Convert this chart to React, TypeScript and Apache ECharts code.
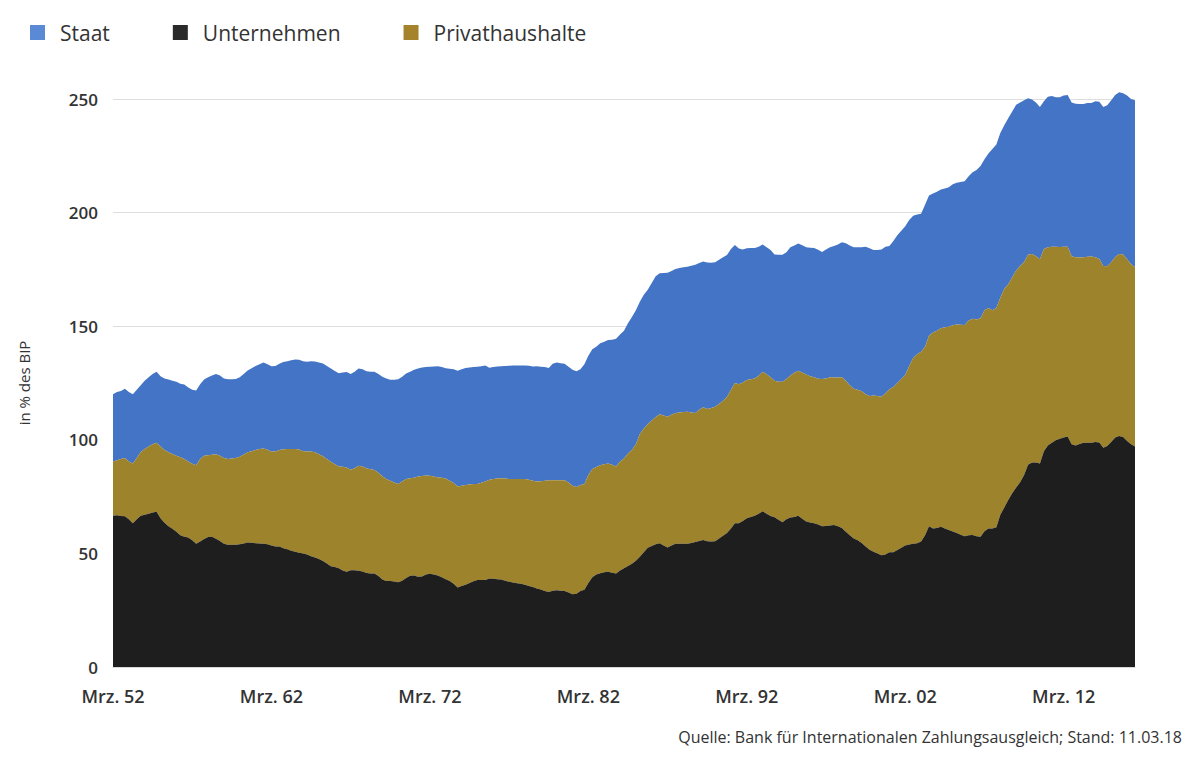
import React, { useEffect, useRef } from "react";
import * as echarts from "echarts";

// Quarterly data, Mrz. 1952 ... Sep. 2016 (259 quarters)
const startYear = 1952;
const quarterNames = ["Mrz.", "Jun.", "Sep.", "Dez."];

const unternehmen: number[] = [
  66.6, 66.8, 66.5, 66.3, 65.0, 63.3, 65.0, 66.6, 67.0, 67.5, 68.0, 68.3,
  65.5, 63.5, 62.0, 60.9, 59.5, 58.0, 57.3, 57.0, 55.8, 54.3, 55.2, 56.3,
  57.2, 57.3, 56.5, 55.5, 54.2, 53.8, 53.8, 53.8, 54.0, 54.4, 54.8, 54.7,
  54.5, 54.4, 54.3, 54.0, 53.5, 53.0, 53.0, 52.3, 51.8, 51.2, 50.7, 50.3,
  50.0, 49.5, 48.8, 48.2, 47.5, 46.7, 45.5, 44.3, 44.0, 43.5, 42.5, 41.9,
  42.6, 42.6, 42.4, 42.0, 41.4, 41.1, 41.1, 40.0, 38.5, 37.8, 37.8, 37.6,
  37.3, 38.0, 39.2, 40.2, 40.3, 39.7, 39.8, 40.7, 41.0, 40.7, 40.3, 39.5,
  38.6, 37.8, 36.6, 35.0, 35.6, 36.2, 37.0, 37.7, 38.3, 38.3, 38.3, 39.0,
  38.8, 38.6, 38.5, 38.0, 37.5, 37.2, 36.9, 36.6, 36.2, 35.6, 35.2, 34.6,
  34.1, 33.5, 33.0, 33.6, 33.8, 33.6, 33.4, 32.8, 32.0, 32.2, 33.4, 34.0,
  37.0, 39.5, 40.7, 41.3, 41.7, 41.9, 41.5, 41.1, 42.5, 43.5, 44.5, 45.4,
  46.8, 48.5, 50.5, 52.5, 53.3, 54.0, 54.5, 53.5, 52.6, 53.5, 54.3, 54.3,
  54.3, 54.3, 54.6, 55.0, 55.5, 55.9, 55.3, 55.2, 55.4, 56.6, 57.8, 59.0,
  61.0, 63.3, 63.3, 64.3, 65.5, 66.0, 66.6, 67.4, 68.6, 67.5, 66.5, 65.9,
  64.8, 63.7, 65.0, 65.8, 66.0, 66.6, 65.3, 64.0, 63.6, 63.3, 62.7, 62.0,
  62.1, 62.3, 62.5, 62.0, 61.2, 59.5, 58.0, 56.6, 55.8, 54.6, 53.0, 51.6,
  50.7, 50.0, 49.2, 49.5, 50.5, 50.5, 51.5, 52.5, 53.5, 53.9, 54.2, 54.5,
  55.2, 58.0, 62.0, 61.0, 61.2, 61.7, 61.0, 60.3, 59.6, 59.0, 58.2, 57.6,
  58.0, 58.1, 57.5, 57.3, 59.8, 61.0, 61.0, 61.5, 67.0, 70.2, 73.5, 76.5,
  79.0, 81.3, 84.5, 89.0, 90.0, 90.0, 89.6, 95.0, 97.5, 98.7, 99.8, 100.5,
  101.0, 101.5, 98.0, 97.5, 98.2, 98.7, 98.7, 98.7, 99.0, 98.8, 96.5, 97.3,
  99.0, 101.0, 101.7, 101.2, 99.5, 98.0, 97.0,
];

const privathaushalte: number[] = [
  23.9, 24.2, 25.0, 25.7, 25.5, 26.3, 27.0, 28.0, 29.0, 29.5, 30.0, 30.4,
  31.5, 32.0, 32.5, 32.8, 33.5, 34.3, 34.2, 33.5, 33.7, 34.5, 36.3, 36.7,
  36.0, 36.1, 37.1, 37.5, 37.8, 37.8, 38.0, 38.2, 38.5, 39.1, 39.7, 40.3,
  41.0, 41.6, 41.9, 41.6, 41.4, 41.9, 42.5, 43.5, 44.1, 44.7, 45.2, 45.4,
  45.0, 45.4, 46.1, 46.3, 46.1, 46.1, 46.0, 46.0, 45.2, 44.8, 45.6, 45.9,
  44.2, 44.9, 46.2, 46.2, 46.1, 45.9, 45.6, 45.5, 45.5, 45.0, 44.2, 43.6,
  43.3, 43.6, 43.6, 42.9, 43.0, 44.1, 44.3, 43.6, 43.2, 43.1, 43.1, 43.8,
  44.4, 44.2, 44.4, 44.4, 44.2, 43.9, 43.3, 42.8, 42.3, 42.8, 43.4, 43.4,
  44.0, 44.4, 44.6, 45.0, 45.2, 45.5, 45.8, 46.1, 46.5, 46.8, 46.8, 47.1,
  47.7, 48.5, 49.2, 48.6, 48.4, 48.6, 48.8, 48.4, 47.8, 47.0, 46.7, 46.5,
  47.5, 47.7, 47.3, 47.5, 47.5, 47.7, 47.5, 47.2, 48.0, 48.3, 49.5, 50.1,
  51.2, 54.0, 54.5, 54.3, 55.2, 56.0, 56.8, 57.2, 57.6, 57.5, 57.5, 57.7,
  57.9, 58.0, 57.4, 56.8, 57.7, 58.4, 58.3, 58.8, 59.2, 59.2, 59.4, 59.8,
  61.0, 61.7, 61.1, 60.9, 60.8, 60.6, 60.4, 60.8, 61.3, 61.3, 61.0, 60.1,
  60.8, 61.8, 61.8, 62.5, 63.5, 63.8, 64.3, 64.7, 64.4, 64.2, 64.2, 64.8,
  64.9, 65.2, 64.9, 65.4, 66.3, 66.5, 66.0, 65.9, 66.2, 66.8, 67.1, 67.7,
  68.8, 69.3, 69.8, 71.0, 71.8, 72.7, 73.5, 74.3, 75.0, 78.6, 81.8, 83.2,
  83.5, 83.0, 83.8, 86.2, 86.8, 87.4, 88.5, 89.5, 90.8, 91.7, 92.4, 92.9,
  94.5, 95.2, 95.5, 96.2, 97.2, 97.0, 96.0, 96.5, 95.5, 96.3, 95.0, 95.0,
  95.5, 95.2, 93.8, 92.5, 91.8, 90.8, 89.9, 89.0, 87.3, 86.3, 85.2, 84.4,
  84.0, 83.5, 82.8, 82.8, 82.0, 81.6, 81.9, 82.0, 81.3, 80.8, 80.0, 79.1,
  79.2, 79.5, 80.1, 80.4, 80.0, 79.3, 79.0,
];

const staat: number[] = [
  29.5, 30.0, 30.0, 30.5, 30.5, 30.4, 30.0, 29.4, 30.0, 30.5, 31.0, 31.3,
  31.0, 31.5, 32.0, 32.3, 32.5, 32.4, 32.8, 32.5, 32.5, 32.9, 33.0, 33.5,
  34.3, 34.9, 35.4, 35.3, 35.0, 35.0, 34.8, 34.8, 35.0, 35.5, 36.0, 36.5,
  37.0, 37.3, 37.8, 37.6, 37.5, 37.6, 38.0, 38.4, 38.7, 39.1, 39.4, 39.5,
  39.6, 39.5, 39.7, 40.0, 40.4, 40.8, 41.0, 41.1, 41.1, 41.0, 41.5, 42.0,
  42.2, 42.5, 42.8, 42.8, 42.7, 42.9, 43.2, 43.5, 43.8, 44.2, 44.4, 45.2,
  46.0, 46.2, 46.4, 46.9, 47.5, 47.6, 47.7, 47.7, 48.0, 48.5, 49.0, 48.7,
  48.5, 49.3, 50.1, 51.0, 51.2, 51.5, 51.5, 51.5, 51.5, 51.3, 51.0, 49.3,
  49.2, 49.3, 49.3, 49.5, 49.9, 50.0, 50.0, 50.0, 50.0, 50.2, 50.3, 50.7,
  50.4, 50.0, 49.4, 51.3, 51.8, 51.5, 51.3, 51.0, 51.0, 51.0, 51.0, 52.8,
  52.5, 52.6, 53.0, 53.7, 54.0, 54.3, 55.0, 56.2, 55.9, 56.2, 57.3, 58.5,
  59.0, 58.3, 58.8, 59.2, 60.5, 62.0, 62.0, 62.7, 63.3, 63.3, 63.4, 63.6,
  63.8, 63.9, 64.6, 65.2, 64.6, 64.2, 64.4, 63.9, 63.5, 63.4, 63.2, 62.5,
  62.0, 60.7, 59.8, 58.6, 58.0, 57.8, 57.4, 56.8, 56.1, 56.0, 56.0, 55.6,
  55.8, 55.9, 55.7, 56.4, 56.0, 56.0, 56.0, 56.0, 56.5, 56.9, 56.8, 55.9,
  56.8, 57.2, 57.9, 58.6, 59.5, 60.5, 61.5, 62.2, 62.7, 63.4, 64.9, 65.0,
  64.0, 64.2, 64.8, 64.5, 63.0, 64.3, 65.0, 65.2, 65.5, 64.2, 62.6, 61.5,
  60.8, 62.5, 61.7, 61.2, 61.2, 61.1, 61.1, 61.4, 62.1, 62.4, 62.9, 63.3,
  63.5, 64.5, 65.8, 67.0, 66.5, 68.0, 71.0, 72.0, 72.5, 72.0, 73.0, 73.0,
  73.0, 72.0, 71.2, 68.8, 68.0, 67.7, 67.0, 65.0, 66.2, 66.3, 65.8, 65.9,
  66.5, 66.8, 67.7, 67.6, 67.6, 67.5, 67.6, 67.5, 68.7, 69.2, 70.0, 70.9,
  71.3, 71.3, 71.2, 70.9, 72.0, 72.7, 73.5,
];

const yTicks = { min: 0, max: 250, interval: 50 };

const categories: string[] = unternehmen.map((_, i) => {
  const year = startYear + Math.floor(i / 4);
  return `${quarterNames[i % 4]} ${String(year % 100).padStart(2, "0")}`;
});

const COLORS = {
  staat: "#4374c5",
  unternehmen: "#1e1e1e",
  privat: "#9e832d",
};

const FONT = "'Open Sans', 'Noto Sans', sans-serif";

export default function App() {
  const ref = useRef<HTMLDivElement>(null);

  useEffect(() => {
    if (!ref.current) return;
    const chart = echarts.init(ref.current, undefined, { renderer: "svg" });
    chart.setOption({
      animation: false,
      backgroundColor: "#ffffff",
      textStyle: { fontFamily: FONT },
      legend: {
        left: 25,
        top: 17,
        itemWidth: 15,
        itemHeight: 15,
        itemGap: 63,
        icon: "rect",
        data: [
          { name: "Staat", itemStyle: { color: "#5a8ad5" } },
          { name: "Unternehmen", itemStyle: { color: "#2a2a2a" } },
          { name: "Privathaushalte", itemStyle: { color: "#a4832b" } },
        ],
        textStyle: {
          fontSize: 21,
          color: "#333333",
          fontFamily: FONT,
          padding: [0, 0, 0, 10],
        },
      },
      grid: { left: 113, right: 65, top: 99, bottom: 96, containLabel: false },
      xAxis: {
        type: "category",
        data: categories,
        boundaryGap: false,
        axisLine: { show: true, lineStyle: { color: "#d8d8d8" } },
        axisTick: { show: false },
        axisLabel: {
          interval: 39,
          margin: 20,
          color: "#333333",
          fontSize: 18,
          fontWeight: 600,
          fontFamily: FONT,
        },
      },
      yAxis: {
        type: "value",
        min: yTicks.min,
        max: yTicks.max,
        interval: yTicks.interval,
        name: "in % des BIP",
        nameLocation: "middle",
        nameGap: 82,
        nameTextStyle: { color: "#333333", fontSize: 15, fontFamily: FONT },
        axisLine: { show: false },
        axisTick: { show: false },
        splitLine: { lineStyle: { color: "#dedede", width: 1 } },
        axisLabel: {
          margin: 15,
          color: "#333333",
          fontSize: 17,
          fontWeight: 600,
          fontFamily: FONT,
        },
      },
      series: [
        {
          name: "Unternehmen",
          type: "line",
          stack: "total",
          data: unternehmen,
          clip: false,
          showSymbol: false,
          symbol: "none",
          lineStyle: { width: 0 },
          itemStyle: { color: COLORS.unternehmen },
          areaStyle: { color: COLORS.unternehmen, opacity: 1 },
          z: 3,
        },
        {
          name: "Privathaushalte",
          type: "line",
          stack: "total",
          data: privathaushalte,
          clip: false,
          showSymbol: false,
          symbol: "none",
          lineStyle: { width: 0 },
          itemStyle: { color: COLORS.privat },
          areaStyle: { color: COLORS.privat, opacity: 1 },
          z: 2,
        },
        {
          name: "Staat",
          type: "line",
          stack: "total",
          data: staat,
          clip: false,
          showSymbol: false,
          symbol: "none",
          lineStyle: { width: 0 },
          itemStyle: { color: COLORS.staat },
          areaStyle: { color: COLORS.staat, opacity: 1 },
          z: 1,
        },
      ],
      graphic: [
        {
          type: "text",
          right: 18,
          top: 729,
          style: {
            text: "Quelle: Bank für Internationalen Zahlungsausgleich; Stand: 11.03.18",
            fill: "#333333",
            fontSize: 16,
            fontFamily: FONT,
          },
        },
      ],
    });
    return () => chart.dispose();
  }, []);

  return (
    <div
      ref={ref}
      style={{ position: "absolute", left: 0, top: 0, width: 1200, height: 763 }}
    />
  );
}
